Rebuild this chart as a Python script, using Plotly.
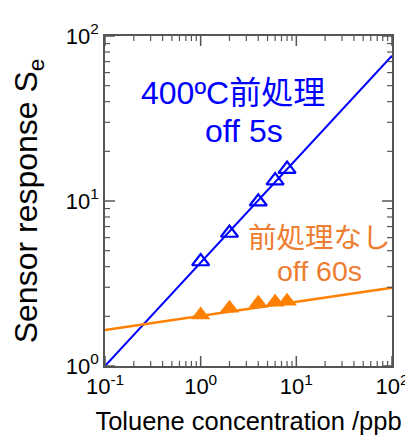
import plotly.graph_objects as go

# Data
conc = [1, 2, 4, 6, 8]
resp_400C = [4.3, 6.4, 9.9, 13.3, 15.6]
resp_none = [2.04, 2.24, 2.40, 2.43, 2.47]

fit_x = [0.1, 100]
fit_400C = [1.0, 76.0]
fit_none = [1.65, 2.98]

x_major = [0.1, 1, 10, 100]
x_major_text = ["10<sup>-1</sup>", "10<sup>0</sup>", "10<sup>1</sup>", "10<sup>2</sup>"]
y_major = [1, 10, 100]
y_major_text = ["10<sup>0</sup>", "10<sup>1</sup>", "10<sup>2</sup>"]
x_minor = [m * 10 ** e for e in (-1, 0, 1) for m in range(2, 10)]
y_minor = [m * 10 ** e for e in (0, 1) for m in range(2, 10)]

BLUE = "#0000FF"
ORANGE = "#FF8000"
ORANGE_TXT = "#ED7D31"
AXC = "#555555"
FONT = "Liberation Sans, Arial, sans-serif"
CJK = "Liberation Sans, Noto Sans CJK JP, sans-serif"

fig = go.Figure()
fig.add_trace(go.Scatter(x=fit_x, y=fit_400C, mode="lines",
                         line=dict(color=BLUE, width=2), showlegend=False))
fig.add_trace(go.Scatter(x=fit_x, y=fit_none, mode="lines",
                         line=dict(color=ORANGE, width=2.5), showlegend=False))
fig.add_trace(go.Scatter(x=conc, y=resp_400C, mode="markers",
                         marker=dict(symbol="triangle-up-open", size=15, color=BLUE,
                                     line=dict(width=2.2, color=BLUE)),
                         showlegend=False))
fig.add_trace(go.Scatter(x=conc, y=resp_none, mode="markers",
                         marker=dict(symbol="triangle-up", size=17, color=ORANGE,
                                     line=dict(width=0)),
                         showlegend=False))

fig.update_xaxes(type="log", range=[-1, 2], showline=True, linecolor=AXC, linewidth=1.5,
                 mirror=True, showgrid=False, zeroline=False, ticks="",
                 tickmode="array", tickvals=x_major, ticktext=x_major_text,
                 tickfont=dict(family=FONT, size=22, color="#000"),
                 title=dict(text="Toluene concentration /ppb",
                            font=dict(family=FONT, size=25.5, color="#000"), standoff=14))
fig.update_yaxes(type="log", range=[0, 2], showline=True, linecolor=AXC, linewidth=1.5,
                 mirror=True, showgrid=False, zeroline=False, ticks="",
                 tickmode="array", tickvals=y_major, ticktext=y_major_text,
                 tickfont=dict(family=FONT, size=22, color="#000"),
                 title=dict(text="Sensor response S<sub>e</sub>",
                            font=dict(family=FONT, size=32, color="#000"), standoff=19))

# Inside tick marks on all four sides, positioned through the axes' own scales
def add_x_ticks(vals, length, width):
    for v in vals:
        for anchor, sign in ((0, 1), (1, -1)):
            fig.add_shape(type="line", xref="x", yref="paper", x0=v, x1=v,
                          ysizemode="pixel", yanchor=anchor, y0=0, y1=sign * length,
                          line=dict(color=AXC, width=width), layer="above")

def add_y_ticks(vals, length, width):
    for v in vals:
        for anchor, sign in ((0, 1), (1, -1)):
            fig.add_shape(type="line", xref="paper", yref="y", y0=v, y1=v,
                          xsizemode="pixel", xanchor=anchor, x0=0, x1=sign * length,
                          line=dict(color=AXC, width=width), layer="above")

add_x_ticks(x_major, 10, 1.5)
add_x_ticks(x_minor, 5, 1.2)
add_y_ticks(y_major, 10, 1.5)
add_y_ticks(y_minor, 5, 1.2)

ann = [
    ("400ºC前処理", 0.447, 0.827, BLUE, 32),
    ("off 5s", 0.485, 0.711, BLUE, 32),
    ("前処理なし", 0.749, 0.389, ORANGE_TXT, 28.5),
    ("off 60s", 0.746, 0.287, ORANGE_TXT, 28.5),
]
for txt, ax_, ay_, col, sz in ann:
    fig.add_annotation(x=ax_, y=ay_, xref="paper", yref="paper", text=txt,
                       xanchor="center", yanchor="middle", showarrow=False,
                       font=dict(family=CJK, size=sz, color=col))

fig.update_layout(
    width=413, height=435,
    margin=dict(l=97, r=24, t=23, b=70),
    plot_bgcolor="white", paper_bgcolor="white",
)

fig.write_html("out.html")
